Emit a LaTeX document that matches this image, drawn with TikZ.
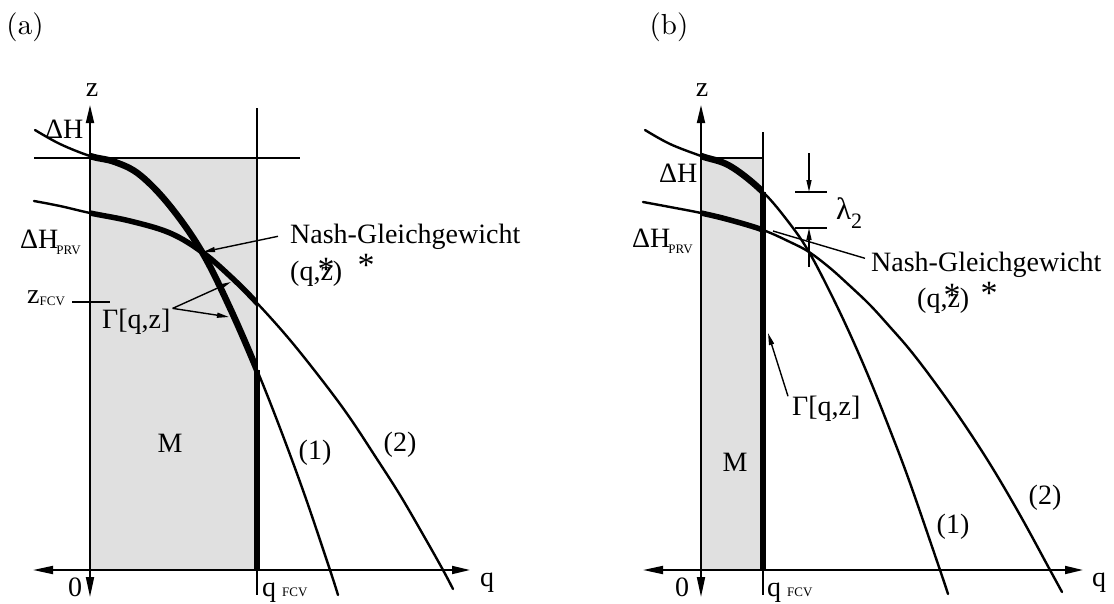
\documentclass[tikz,border=0pt]{standalone}
\usepackage{fontspec}
\usepackage{tikz}
\usetikzlibrary{arrows.meta, positioning, calc}
\newfontfamily\tnr{Liberation Serif}
\newfontfamily\cmten{lmroman10-regular.otf}
\newcommand{\idx}[2][5pt]{\raisebox{-#1}{\fontsize{13}{13}\selectfont #2}}

\begin{document}
\begin{tikzpicture}[x=1pt, y=-1pt,
  lbl/.style={font=\tnr\fontsize{28}{30}\selectfont, inner sep=0pt},
  stern/.style={font=\tnr\fontsize{34}{36}\selectfont, inner sep=0pt, anchor=base},
  tag/.style={font=\cmten\fontsize{29}{31}\selectfont, inner sep=0pt},
  achse/.style={line width=1.8pt, {Triangle[length=20pt,width=8pt]}-{Triangle[length=18pt,width=8pt]}},
  kurve/.style={line width=2.4pt, line cap=round},
  dick/.style={line width=6.5pt},
  duenn/.style={line width=1.4pt},
  zeiger/.style={line width=1.4pt, -{Triangle[length=12pt,width=5pt]}}]
% --- FARBEN UND RAHMEN ---
\definecolor{feld}{HTML}{E0E0E0}
\useasboundingbox (0,0) rectangle (1114,603);

% TEIL (a): Feld M und Begrenzungen
\fill[feld] (90,158) rectangle (257,570);
\draw[duenn] (34,158) -- (300,158);
\draw[duenn] (257,108) -- (257,570);
\draw[dick] (257,370) -- (257,570);
\draw[duenn] (257,570) -- (257,595);
\draw[duenn] (72,302) -- (110,302);

% TEIL (a): Kennlinien (1) und (2)
\draw[kurve] plot[smooth, tension=0.6] coordinates {(35,130) (60,144) (90,156) (115,162) (140,175) (170,206) (202,252) (230,308) (257,370) (280,428) (305,496) (330,570) (338,595)};
\draw[kurve] plot[smooth, tension=0.6] coordinates {(34,201) (60,206) (90,213) (130,221) (170,233) (202,252) (230,276) (257,303) (290,340) (325,384) (350,418) (375,456) (400,495) (425,538) (443,570) (453,589)};
\begin{scope}
  \clip (90,0) rectangle (257,603);
  \draw[dick] plot[smooth, tension=0.6] coordinates {(35,130) (60,144) (90,156) (115,162) (140,175) (170,206) (202,252) (230,308) (257,370) (280,428)};
  \draw[line width=5.5pt] plot[smooth, tension=0.6] coordinates {(34,201) (60,206) (90,213) (130,221) (170,233) (202,252) (230,276) (257,303) (290,340)};
\end{scope}

% TEIL (a): Achsen
\draw[achse] (33,570) -- (470,570);
\draw[achse] (90,597) -- (90,105);

% TEIL (a): Beschriftung
\node[tag] (tagA) at (25,27) {(a)};
\node[lbl] (zA) at (92,90) {z};
\node[lbl, anchor=base west] (dhA) at (45,138) {ΔH};
\node[lbl, anchor=base west] (dhprvA) at (20,248) {ΔH\hspace{-2pt}\idx[6pt]{PRV}};
\node[lbl, anchor=base west] (zfcvA) at (27,303) {z\idx[2pt]{FCV}};
\node[lbl, anchor=base west] (gammaA) at (102,328) {Γ[q,z]};
\node[lbl, anchor=base west] (nashA) at (290,243) {Nash-Gleichgewicht};
\node[lbl, anchor=base west] (qzA) at (290,280) {(q,z)};
\node[stern] (s1A) at (326,280) {*};
\node[stern] (s2A) at (366,276) {*};
\node[lbl] (mA) at (170,443) {M};
\node[lbl] (k1A) at (315,453) {(1)};
\node[lbl] (k2A) at (400,445) {(2)};
\node[lbl] (nullA) at (75,587) {0};
\node[lbl, anchor=base west] (qfcvA) at (262,596) {q\hspace{6pt}\idx[0pt]{FCV}};
\node[lbl, anchor=base west] (qA) at (480,586) {q};

% TEIL (a): Zeiger
\coordinate (eqA) at (203,252);
\coordinate (g1A) at (231,282);
\coordinate (g2A) at (229,317);
\draw[zeiger] ([xshift=-12pt]nashA.west) -- (eqA);
\draw[zeiger] ([xshift=2pt]gammaA.north east) -- (g1A);
\draw[zeiger] ([xshift=2pt]gammaA.north east) -- (g2A);

% TEIL (b): Feld M und Begrenzungen
\fill[feld] (701,158) rectangle (763,570);
\draw[duenn] (701,158) -- (763,158);
\draw[duenn] (763,132) -- (763,570);
\draw[dick] (763,192) -- (763,570);
\draw[duenn] (763,570) -- (763,595);

% TEIL (b): Kennlinien (1) und (2)
\draw[kurve] plot[smooth, tension=0.6] coordinates {(645,130) (670,144) (701,156) (730,166) (763,192) (790,224) (809,252) (830,292) (850,334) (870,380) (890,430) (910,483) (940,570) (948,594)};
\draw[kurve] plot[smooth, tension=0.6] coordinates {(643,202) (670,207) (701,213) (730,220) (763,230) (790,242) (809,252) (830,268) (850,286) (870,305) (890,327) (910,350) (933,380) (960,418) (990,464) (1020,515) (1050,570) (1062,592)};
\begin{scope}
  \clip (701,0) rectangle (763,603);
  \draw[dick] plot[smooth, tension=0.6] coordinates {(645,130) (670,144) (701,156) (730,166) (763,192) (790,224) (809,252)};
  \draw[line width=5.5pt] plot[smooth, tension=0.6] coordinates {(643,202) (670,207) (701,213) (730,220) (763,230) (790,242) (809,252)};
\end{scope}

% TEIL (b): Achsen
\draw[achse] (643,570) -- (1083,570);
\draw[achse] (701,597) -- (701,105);

% TEIL (b): Masslinien fuer lambda_2
\coordinate (l1) at (809,153);
\coordinate (l2) at (809,192);
\coordinate (l3) at (809,228);
\coordinate (l4) at (809,267);
\draw[duenn] (795,192) -- (827,192);
\draw[duenn] (795,228) -- (827,228);
\draw[zeiger] (l1) -- (l2);
\draw[zeiger] (l4) -- (l3);

% TEIL (b): Beschriftung
\node[tag] (tagB) at (669,27) {(b)};
\node[lbl] (zB) at (702,90) {z};
\node[lbl, anchor=base west] (dhB) at (659,182) {ΔH};
\node[lbl, anchor=base west] (dhprvB) at (632,247) {ΔH\hspace{-2pt}\idx[6pt]{PRV}};
\node[lbl, anchor=base west] (lamB) at (836,219) {\fontsize{31}{33}\selectfont λ\raisebox{-9pt}{\fontsize{22}{22}\selectfont 2}};
\node[lbl, anchor=base west] (gammaB) at (792,415) {Γ[q,z]};
\node[lbl, anchor=base west] (nashB) at (871,271) {Nash-Gleichgewicht};
\node[lbl, anchor=base west] (qzB) at (917,307) {(q,z)};
\node[stern] (s1B) at (952,306) {*};
\node[stern] (s2B) at (989,304) {*};
\node[lbl] (mB) at (735,462) {M};
\node[lbl] (k1B) at (953,527) {(1)};
\node[lbl] (k2B) at (1045,498) {(2)};
\node[lbl] (nullB) at (682,587) {0};
\node[lbl, anchor=base west] (qfcvB) at (767,596) {q\hspace{6pt}\idx[0pt]{FCV}};
\node[lbl, anchor=base west] (qB) at (1092,586) {q};

% TEIL (b): Zeiger
\coordinate (eqB) at (773,231);
\coordinate (gB) at (768,333);
\draw[duenn] ([shift={(-6,-6)}]nashB.west) -- (eqB);
\draw[zeiger] ([shift={(-4,-12)}]gammaB.west) -- (gB);
\end{tikzpicture}
\end{document}
